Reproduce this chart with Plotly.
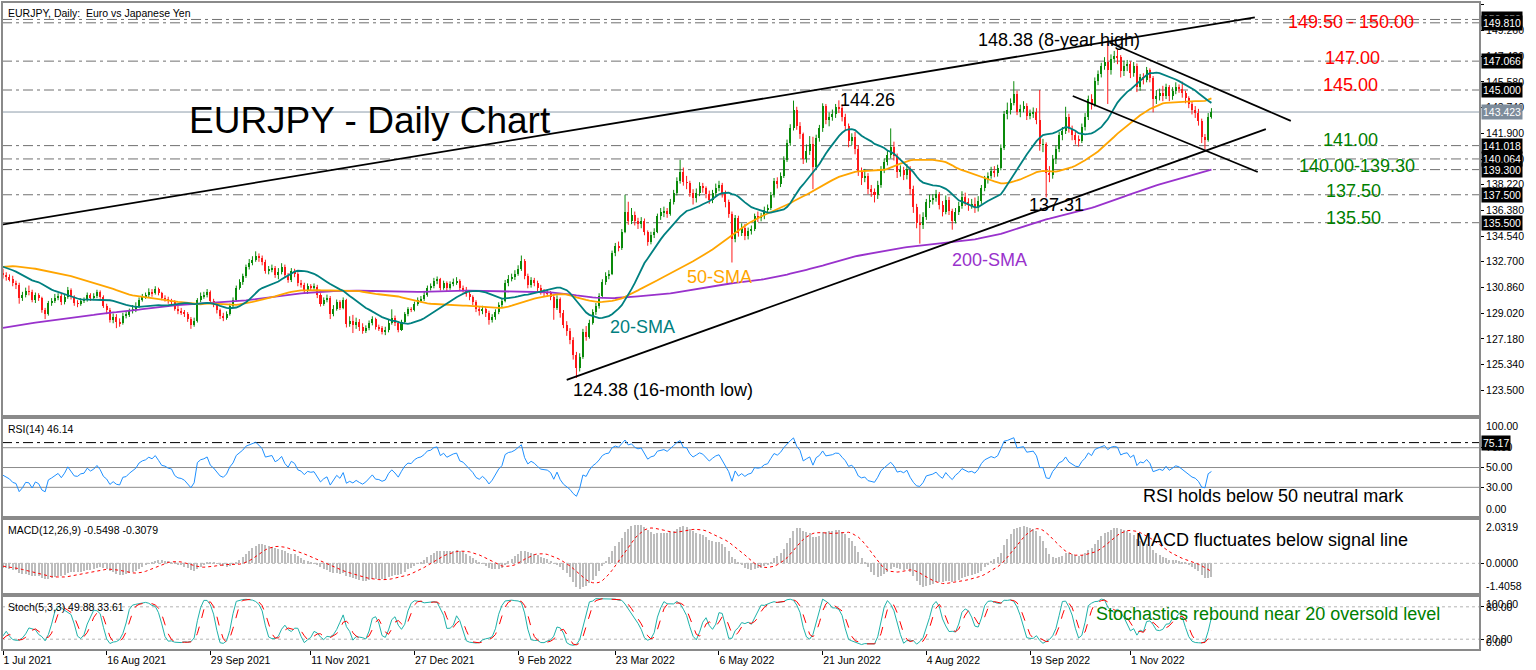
import numpy as np
import pandas as pd
import plotly.graph_objects as go

# ---------------- data ----------------
first_date = "2021-07-01"

# daily closes before the visible window (only used to warm up the moving averages / oscillators)
history_close = [
    123.2, 123.0, 122.9, 122.6, 122.8, 123.3, 123.1, 123.6, 123.9, 123.5,
    123.6, 124.2, 124.0, 124.5, 124.8, 124.6, 124.0, 123.7, 123.5, 123.2,
    123.4, 124.2, 124.6, 124.3, 123.9, 123.6, 123.2, 122.4, 122.1, 122.3,
    122.6, 123.0, 123.5, 122.9, 124.3, 124.8, 124.6, 124.2, 124.0, 124.3,
    124.1, 123.8, 123.6, 123.4, 123.9, 124.0, 124.3, 124.4, 124.2, 124.4,
    124.6, 125.8, 126.1, 126.2, 126.4, 126.0, 126.3, 126.1, 126.4, 126.7,
    126.5, 126.8, 126.6, 127.1, 126.8, 126.3, 126.4, 126.7, 126.5, 126.8,
    126.4, 126.2, 126.1, 126.2, 126.6, 126.9, 126.7, 126.5, 126.3, 126.2,
    126.5, 126.2, 126.1, 126.3, 126.4, 126.2, 126.0, 125.8, 126.1, 126.0,
    125.9, 127.0, 126.3, 126.2, 126.4, 126.5, 126.7, 126.9, 127.2, 127.3,
    127.4, 127.2, 127.3, 127.6, 127.7, 128.0, 127.9, 128.1, 128.6, 128.3,
    128.9, 129.1, 128.8, 128.6, 128.9, 128.6, 128.7, 129.2, 129.0, 129.6,
    129.8, 130.1, 130.0, 129.8, 129.9, 130.3, 129.9, 129.4, 129.2, 129.1,
    128.5, 128.9, 129.5, 129.9, 129.8, 129.9, 129.9, 130.0, 130.2, 130.3,
    130.3, 130.2, 130.0, 130.0, 130.2, 130.5, 130.7, 130.6, 130.1, 130.6,
    130.8, 130.1, 130.4, 131.3, 131.4, 132.0, 131.8, 131.5, 131.7, 131.6,
    131.8, 132.3, 132.2, 132.0, 132.0, 131.8, 131.8, 132.3, 132.8, 132.9,
    132.8, 132.9, 132.9, 133.2, 133.2, 133.2, 133.4, 133.9, 133.6, 133.7,
    133.2, 133.0, 133.0, 133.2, 133.0, 132.8, 132.9, 132.7, 132.9, 132.7,
    131.8, 131.4, 131.8, 132.0, 132.2, 132.3, 132.1, 131.9, 131.6, 131.9,
]

close = [
    131.75, 131.58,
    131.45, 131.15, 131.05, 130.10, 130.30,
    130.60, 130.55, 129.95, 130.30, 130.10,
    129.25, 128.95, 129.75, 129.90, 130.10,
    130.25, 129.80, 130.15, 130.70, 130.20,
    129.75, 129.70, 129.90, 129.95, 130.35,
    130.10, 130.25, 130.55, 130.20, 129.55,
    129.25, 128.55, 128.75, 128.40, 128.30,
    128.85, 128.90, 129.15, 129.35, 129.55,
    130.00, 130.20, 130.30, 130.55, 130.45,
    130.75, 130.45, 130.10, 130.05, 129.90,
    129.85, 129.35, 129.15, 129.10, 128.95,
    128.60, 128.20, 128.45, 129.95, 130.25,
    130.35, 130.55, 129.90, 129.65, 129.25,
    128.85, 128.70, 128.95, 129.55, 129.95,
    130.85, 131.25, 131.65, 132.35, 132.65,
    132.85, 133.15, 132.95, 132.70, 132.05,
    132.15, 132.25, 131.75, 131.95, 132.35,
    131.75, 131.40, 132.05, 131.85, 131.20,
    131.05, 130.65, 130.95, 130.85, 130.90,
    130.30, 129.70, 129.95, 130.10, 128.95,
    129.35, 129.80, 129.40, 129.95, 128.25,
    128.45, 128.15, 128.40, 128.05, 127.75,
    127.95, 128.30, 128.60, 128.00, 127.95,
    127.70, 127.80, 128.35, 128.70, 128.35,
    127.85, 128.40, 128.95, 129.30, 129.25,
    129.70, 129.95, 130.05, 130.35, 130.85,
    130.95, 131.35, 131.45, 130.85, 131.15,
    130.85, 131.10, 131.25, 131.35, 130.80,
    130.70, 130.40, 130.15, 129.85, 129.35,
    129.15, 129.35, 129.05, 128.50, 128.75,
    129.10, 129.60, 129.90, 131.20, 131.50,
    131.60, 131.85, 132.20, 132.75, 131.70,
    131.05, 131.40, 131.20, 130.85, 130.55,
    130.50, 130.45, 130.20, 129.40, 130.05,
    129.00, 128.20, 127.75, 127.10, 126.00,
    125.10, 125.90, 127.65, 127.35, 128.35,
    129.10, 129.55, 130.25, 131.25, 131.70,
    131.85, 133.30, 133.85, 133.70, 134.85,
    136.30, 135.65, 136.05, 135.60, 135.40,
    135.65, 134.85, 134.15, 134.65, 134.85,
    135.95, 136.25, 136.35, 136.15, 136.95,
    137.60, 138.50, 139.15, 138.40, 138.35,
    137.65, 137.25, 137.65, 138.10, 137.95,
    137.55, 137.15, 137.60, 138.00, 138.20,
    137.60, 136.95, 136.10, 134.30, 135.85,
    134.75, 135.15, 134.55, 134.90, 135.05,
    135.95, 135.85, 135.95, 136.40, 136.55,
    137.45, 138.45, 138.25, 138.85, 140.00,
    141.20, 142.30, 143.55, 142.45, 141.85,
    140.05, 140.60, 141.10, 139.50, 141.55,
    142.25, 143.85, 142.85, 143.05, 143.25,
    143.75, 143.70, 143.05, 142.45, 141.35,
    141.60, 140.80, 139.20, 138.70, 138.85,
    137.90, 137.70, 137.45, 138.20, 139.30,
    139.85, 140.35, 140.95, 140.30, 139.10,
    139.25, 138.95, 139.35, 137.90, 136.60,
    135.50, 135.35, 135.90, 136.95, 137.10,
    137.25, 137.55, 136.80, 136.30, 137.15,
    136.35, 135.65, 136.30, 136.70, 137.35,
    137.00, 136.75, 136.85, 136.55, 137.05,
    137.95, 138.60, 138.85, 139.20, 139.05,
    139.40, 140.85, 143.25, 143.55, 144.10,
    144.70, 143.45, 143.65, 143.85, 143.15,
    143.35, 143.40, 142.85, 141.10, 141.10,
    139.05, 138.90, 140.05, 140.75, 141.75,
    142.05, 143.05, 142.20, 141.75, 141.45,
    141.35, 142.35, 143.05, 144.35, 143.95,
    145.65, 146.15, 146.70, 147.00, 146.45,
    147.20, 147.45, 147.35, 146.35, 146.70,
    146.85, 146.25, 146.75, 145.20, 145.90,
    145.75, 146.40, 145.85, 144.35, 144.60,
    144.75, 144.55, 145.20, 144.55, 144.95,
    145.25, 145.10, 144.75, 144.40, 144.00,
    143.55, 143.35, 142.80, 141.60, 141.45,
    143.10, 143.42,
]

high = [
    132.20, 131.95,
    131.80, 131.70, 131.35, 131.20, 130.55,
    130.85, 131.00, 130.70, 130.50, 130.45,
    130.20, 129.40, 129.90, 130.10, 130.40,
    130.45, 130.40, 130.35, 130.90, 130.80,
    130.30, 129.95, 130.10, 130.15, 130.50,
    130.45, 130.45, 130.70, 130.65, 130.30,
    129.70, 129.40, 129.00, 128.95, 128.65,
    129.05, 129.15, 129.35, 129.60, 129.80,
    130.15, 130.40, 130.50, 130.80, 130.75,
    130.95, 130.85, 130.55, 130.30, 130.20,
    130.05, 129.95, 129.55, 129.40, 129.25,
    129.10, 128.75, 128.70, 130.10, 130.50,
    130.55, 130.75, 130.65, 130.05, 129.75,
    129.35, 129.05, 129.15, 129.70, 130.15,
    131.00, 131.45, 131.85, 132.50, 132.90,
    133.10, 133.45, 133.30, 133.15, 132.85,
    132.40, 132.50, 132.40, 132.25, 132.60,
    132.50, 131.90, 132.25, 132.20, 131.95,
    131.40, 131.20, 131.15, 131.10, 131.15,
    131.05, 130.45, 130.15, 130.35, 130.25,
    129.60, 130.00, 129.95, 130.15, 130.05,
    128.80, 128.90, 128.70, 128.60, 128.30,
    128.15, 128.50, 128.80, 128.70, 128.20,
    128.10, 128.05, 128.55, 129.30, 128.85,
    128.45, 128.55, 129.10, 129.45, 129.45,
    129.85, 130.15, 130.25, 130.55, 131.00,
    131.15, 131.55, 131.65, 131.55, 131.35,
    131.30, 131.30, 131.50, 131.60, 131.45,
    131.00, 130.90, 130.55, 130.30, 129.95,
    129.50, 129.55, 129.50, 129.20, 128.95,
    129.30, 129.80, 130.10, 131.40, 131.75,
    131.85, 132.10, 132.45, 133.15, 132.90,
    131.85, 131.60, 131.55, 131.35, 131.05,
    130.75, 130.70, 130.60, 130.35, 130.30,
    130.15, 129.25, 128.45, 127.95, 127.30,
    126.25, 126.15, 127.90, 128.10, 128.55,
    129.30, 129.75, 130.45, 131.45, 131.95,
    132.10, 133.50, 134.05, 134.15, 135.05,
    137.50, 137.00, 136.55, 136.30, 135.85,
    135.90, 135.80, 134.95, 134.85, 135.10,
    136.15, 136.55, 136.65, 136.55, 137.20,
    137.85, 138.75, 140.00, 139.45, 138.85,
    138.50, 137.90, 137.95, 138.40, 138.35,
    138.10, 137.80, 137.85, 138.30, 138.50,
    138.35, 137.80, 137.15, 136.30, 136.05,
    136.00, 135.45, 135.40, 135.15, 135.30,
    136.15, 136.30, 136.20, 136.65, 136.80,
    137.70, 138.70, 138.75, 139.10, 140.25,
    141.45, 142.55, 144.24, 143.80, 142.70,
    141.95, 141.10, 141.70, 141.65, 141.80,
    142.50, 144.05, 144.00, 143.40, 143.60,
    144.00, 144.26, 143.95, 143.30, 142.60,
    141.90, 142.00, 141.05, 139.45, 139.35,
    139.05, 138.20, 137.95, 138.50, 139.55,
    140.10, 140.65, 142.25, 141.30, 140.45,
    139.60, 139.50, 139.70, 139.55, 138.15,
    136.85, 136.10, 136.25, 137.20, 137.50,
    137.55, 137.85, 137.70, 137.05, 137.45,
    137.35, 136.50, 136.55, 137.00, 137.75,
    137.65, 137.25, 137.20, 137.30, 137.40,
    138.20, 138.85, 139.10, 139.50, 139.55,
    139.65, 141.10, 143.50, 144.10, 144.40,
    145.63, 144.95, 143.95, 144.20, 144.05,
    143.60, 143.75, 143.70, 145.00, 141.50,
    141.25, 139.55, 140.35, 141.05, 142.00,
    142.35, 143.80, 143.30, 142.45, 142.05,
    141.75, 142.60, 143.35, 144.60, 144.70,
    145.90, 146.40, 146.95, 147.35, 148.38,
    147.55, 147.80, 147.90, 147.50, 147.10,
    147.15, 147.05, 147.00, 146.90, 146.15,
    146.20, 146.65, 146.55, 146.00, 145.00,
    145.10, 145.30, 145.45, 145.35, 145.20,
    145.55, 145.40, 145.60, 144.95, 144.55,
    144.20, 143.85, 143.65, 142.95, 141.85,
    143.35, 143.70,
]

low = [
    131.50, 131.35,
    131.30, 130.95, 130.75, 129.70, 129.90,
    130.15, 130.30, 129.80, 129.75, 129.90,
    129.05, 128.60, 128.85, 129.55, 129.75,
    129.95, 129.60, 129.65, 130.05, 130.00,
    129.55, 129.45, 129.55, 129.75, 129.85,
    129.90, 129.95, 130.10, 130.05, 129.40,
    128.95, 128.35, 128.30, 127.95, 128.05,
    128.20, 128.65, 128.75, 129.00, 129.10,
    129.40, 129.85, 130.05, 130.15, 130.20,
    130.35, 130.30, 129.95, 129.85, 129.70,
    129.65, 129.20, 128.95, 128.90, 128.75,
    128.40, 127.90, 128.05, 128.35, 129.80,
    130.05, 130.15, 129.75, 129.45, 129.00,
    128.60, 128.45, 128.55, 128.85, 129.40,
    129.85, 130.70, 131.05, 131.55, 132.15,
    132.45, 132.70, 132.70, 132.45, 131.85,
    131.80, 131.95, 131.55, 131.45, 131.80,
    131.55, 131.20, 131.25, 131.60, 130.95,
    130.85, 130.45, 130.40, 130.65, 130.70,
    130.10, 129.50, 129.55, 129.80, 128.60,
    128.80, 129.20, 129.25, 129.30, 128.00,
    128.05, 127.60, 127.90, 127.75, 127.55,
    127.60, 127.80, 128.15, 127.85, 127.75,
    127.50, 127.45, 127.65, 128.20, 128.10,
    127.65, 127.75, 128.30, 128.80, 129.10,
    129.15, 129.55, 129.80, 129.90, 130.20,
    130.65, 130.80, 131.10, 130.65, 130.70,
    130.60, 130.70, 130.95, 131.05, 130.60,
    130.50, 130.20, 129.95, 129.60, 129.10,
    128.85, 128.95, 128.75, 128.20, 128.35,
    128.55, 128.95, 129.45, 129.80, 130.95,
    131.30, 131.40, 131.70, 132.05, 131.45,
    130.80, 130.85, 130.95, 130.60, 130.35,
    130.25, 130.20, 129.95, 128.55, 129.25,
    128.70, 127.95, 127.40, 126.80, 125.70,
    124.38, 124.85, 125.75, 127.05, 127.20,
    128.20, 128.90, 129.35, 130.10, 131.05,
    131.45, 131.75, 133.10, 133.45, 133.55,
    134.75, 135.35, 135.40, 135.30, 135.05,
    135.10, 134.60, 133.85, 133.95, 134.40,
    134.75, 135.70, 135.90, 135.85, 136.00,
    136.80, 137.45, 138.30, 138.15, 137.90,
    137.35, 136.80, 136.95, 137.40, 137.65,
    137.25, 136.85, 136.90, 137.35, 137.75,
    137.30, 136.60, 135.85, 132.65, 134.10,
    134.50, 134.55, 134.25, 134.30, 134.65,
    134.90, 135.55, 135.60, 135.75, 136.20,
    136.40, 137.30, 137.95, 138.05, 138.70,
    139.85, 141.00, 142.10, 142.15, 141.50,
    139.70, 139.80, 140.35, 137.90, 139.30,
    141.30, 142.00, 142.55, 142.40, 142.80,
    143.00, 143.35, 142.75, 142.10, 140.90,
    141.05, 140.40, 138.85, 138.20, 138.40,
    137.55, 137.35, 136.95, 137.20, 138.00,
    139.05, 139.60, 140.10, 139.95, 138.70,
    138.80, 138.55, 138.60, 137.50, 136.20,
    135.10, 134.00, 135.05, 135.70, 136.55,
    136.80, 137.00, 136.45, 135.95, 136.10,
    136.05, 135.00, 135.45, 136.05, 136.50,
    136.70, 136.35, 136.50, 136.20, 136.30,
    136.85, 137.75, 138.30, 138.65, 138.75,
    138.80, 139.25, 140.70, 142.90, 143.25,
    143.90, 143.20, 143.05, 143.40, 142.85,
    142.90, 143.00, 142.55, 140.65, 140.55,
    137.31, 138.40, 138.65, 139.70, 140.55,
    141.40, 141.85, 141.95, 141.40, 141.10,
    140.95, 141.20, 142.10, 142.85, 143.60,
    143.80, 145.35, 145.90, 146.45, 144.00,
    146.10, 146.95, 146.85, 145.90, 146.00,
    146.35, 145.85, 145.95, 144.85, 144.95,
    145.40, 145.55, 145.55, 143.40, 144.00,
    144.25, 144.20, 144.35, 144.20, 144.30,
    144.70, 144.80, 144.45, 144.05, 143.70,
    143.25, 143.00, 142.45, 141.20, 140.75,
    141.30, 142.95,
]

label_dates = ["2021-07-01", "2021-08-16", "2021-09-29", "2021-11-11", "2021-12-27",
               "2022-02-09", "2022-03-23", "2022-05-06", "2022-06-21", "2022-08-04",
               "2022-09-19", "2022-11-01"]
price_ticks = [151.10, 149.26, 147.42, 145.58, 143.74, 141.90, 140.06, 138.22,
               136.38, 134.54, 132.70, 130.86, 129.02, 127.18, 125.34, 123.50]
sr_levels = [150.05, 149.81, 147.066, 145.0, 141.018, 140.064, 139.30, 137.50, 135.50]
last_price = 143.423
rsi_mark = 75.17
rsi_levels = [30, 50, 70]
stoch_levels = [20, 80]
# trend lines: [bar index start, price start, bar index end, price end]
trend_lines = [
    [-1.0, 135.34, 386.4, 150.20],
    [174.0, 124.24, 389.8, 142.20],
    [341.5, 148.40, 397.5, 142.79],
    [330.2, 144.57, 387.3, 139.13],
]

assert len(history_close) == 200
assert len(close) == len(high) == len(low) == 374

# ---------------- indicators ----------------
n = len(close)
idx = np.arange(n)
dates = pd.bdate_range(first_date, periods=n)
H = len(history_close)
c_all = pd.Series(history_close + close, dtype=float)
h_all = pd.Series(history_close + high, dtype=float)
l_all = pd.Series(history_close + low, dtype=float)

sma20 = c_all.rolling(20).mean().iloc[H:].values
sma50 = c_all.rolling(50).mean().iloc[H:].values
sma200 = c_all.rolling(200).mean().iloc[H:].values

dlt = c_all.diff()
ag = dlt.clip(lower=0).ewm(alpha=1 / 14, adjust=False).mean()
al = (-dlt).clip(lower=0).ewm(alpha=1 / 14, adjust=False).mean()
rsi = (100 - 100 / (1 + ag / al)).iloc[H:].values

macd_s = c_all.ewm(span=12, adjust=False).mean() - c_all.ewm(span=26, adjust=False).mean()
sig_s = macd_s.rolling(9).mean()
macd = macd_s.iloc[H:].values
sig = sig_s.iloc[H:].values

hh = h_all.rolling(5).max()
ll = l_all.rolling(5).min()
k_s = (c_all - ll).rolling(3).sum() / (hh - ll).rolling(3).sum() * 100
d_s = k_s.rolling(3).mean()
stk = k_s.iloc[H:].values
std = d_s.iloc[H:].values

o = np.array([history_close[-1]] + close[:-1])
c = np.array(close)
hi = np.maximum(np.array(high), np.maximum(o, c))
lo = np.minimum(np.array(low), np.minimum(o, c))
up = c >= o

GREEN = "#0B8A0B"
RED = "#FF1A1A"
FONT = "Liberation Sans, Arial, sans-serif"

fig = go.Figure()

# wicks
for mask, col in ((up, GREEN), (~up, RED)):
    xs, ys = [], []
    for i in idx[mask]:
        xs += [i, i, None]
        ys += [lo[i], hi[i], None]
    fig.add_trace(go.Scatter(x=xs, y=ys, mode="lines", line=dict(color=col, width=1),
                             hoverinfo="skip", xaxis="x", yaxis="y"))
# bodies
fig.add_trace(go.Bar(x=idx, y=np.maximum(np.abs(c - o), 0.03), base=np.minimum(o, c),
                     width=0.62, marker=dict(color=np.where(up, GREEN, RED), line=dict(width=0)),
                     xaxis="x", yaxis="y"))
# moving averages
for vals, col in ((sma200, "#9932CC"), (sma50, "#FFA500"), (sma20, "#008080")):
    fig.add_trace(go.Scatter(x=idx, y=vals, mode="lines", line=dict(color=col, width=1.8),
                             xaxis="x", yaxis="y"))

# RSI
fig.add_trace(go.Scatter(x=idx, y=rsi, mode="lines", line=dict(color="#1E90FF", width=1),
                         xaxis="x", yaxis="y2"))
# MACD
fig.add_trace(go.Bar(x=idx, y=macd, width=0.32, marker=dict(color="#BDBDBD", line=dict(width=0)),
                     xaxis="x", yaxis="y3"))
fig.add_trace(go.Scatter(x=idx, y=sig, mode="lines", line=dict(color="#FF0000", width=1, dash="dot"),
                         xaxis="x", yaxis="y3"))
# Stochastic
fig.add_trace(go.Scatter(x=idx, y=stk, mode="lines", line=dict(color="#20B2AA", width=1),
                         xaxis="x", yaxis="y4"))
fig.add_trace(go.Scatter(x=idx, y=std, mode="lines", line=dict(color="#FF0000", width=1, dash="dash"),
                         xaxis="x", yaxis="y4"))

main_dom = [0.3611, 1.0]
rsi_dom = [0.2052, 0.3580]
macd_dom = [0.0864, 0.2022]
stoch_dom = [0.0, 0.0833]

shapes = []
DASHDOT = "10px,4px,3px,4px"
for lv in sr_levels:
    shapes.append(dict(type="line", xref="paper", x0=0, x1=1, yref="y", y0=lv, y1=lv,
                       line=dict(color="#707070", width=1, dash=DASHDOT), layer="below"))
shapes.append(dict(type="line", xref="paper", x0=0, x1=1, yref="y", y0=last_price, y1=last_price,
                   line=dict(color="#8E9CAA", width=1), layer="below"))
for x0, y0, x1, y1 in trend_lines:
    shapes.append(dict(type="line", xref="x", yref="y", x0=x0, y0=y0, x1=x1, y1=y1,
                       line=dict(color="black", width=1.8)))
for lv in rsi_levels:
    shapes.append(dict(type="line", xref="paper", x0=0, x1=1, yref="y2", y0=lv, y1=lv,
                       line=dict(color="#8C8C8C", width=1), layer="below"))
shapes.append(dict(type="line", xref="paper", x0=0, x1=1, yref="y2", y0=rsi_mark, y1=rsi_mark,
                   line=dict(color="black", width=1, dash=DASHDOT), layer="below"))
shapes.append(dict(type="line", xref="paper", x0=0, x1=1, yref="y3", y0=0, y1=0,
                   line=dict(color="#B4B4B4", width=1, dash="dot"), layer="below"))
for lv in stoch_levels:
    shapes.append(dict(type="line", xref="paper", x0=0, x1=1, yref="y4", y0=lv, y1=lv,
                       line=dict(color="#B4B4B4", width=1, dash="dot"), layer="below"))
for dom in (main_dom, rsi_dom, macd_dom, stoch_dom):
    shapes.append(dict(type="rect", xref="paper", yref="paper", x0=0, x1=1, y0=dom[0], y1=dom[1],
                       line=dict(color="#8A8A8A", width=2), fillcolor="rgba(0,0,0,0)"))

ann = []


def txt(x, y, text, size=18, color="black", yref="y", xref="x", xanchor="center",
        yanchor="middle", **kw):
    ann.append(dict(x=x, y=y, xref=xref, yref=yref, text=text, showarrow=False,
                    xanchor=xanchor, yanchor=yanchor,
                    font=dict(family=FONT, size=size, color=color), **kw))


# panel captions
txt(0, main_dom[1], "EURJPY, Daily:\u00a0 Euro vs Japanese Yen", size=10.5, xref="paper",
    yref="paper", xanchor="left", yanchor="top", xshift=4, yshift=-3)
txt(0, rsi_dom[1], "RSI(14) 46.14", size=10.5, xref="paper", yref="paper",
    xanchor="left", yanchor="top", xshift=4, yshift=-3)
txt(0, macd_dom[1], "MACD(12,26,9) -0.5498 -0.3079", size=10.5, xref="paper", yref="paper",
    xanchor="left", yanchor="top", xshift=4, yshift=-3)
txt(0, stoch_dom[1], "Stoch(5,3,3) 49.88 33.61", size=10.5, xref="paper", yref="paper",
    xanchor="left", yanchor="top", xshift=4, yshift=-3)

# chart texts
txt(113.3, 142.85, "EURJPY - Daily Chart", size=37)
txt(266.7, 144.28, "144.26")
txt(325.9, 148.58, "148.38 (8-year high)")
txt(325.3, 136.77, "137.31")
txt(203.7, 123.53, "124.38 (16-month low)")
txt(304.6, 132.83, "200-SMA", color="#9932CC")
txt(221.3, 131.61, "50-SMA", color="#FFA500")
txt(197.5, 128.04, "20-SMA", color="#008080")
txt(416.0, 149.87, "149.50 - 150.00", color="#FF0000")
txt(416.4, 147.29, "147.00", color="#FF0000")
txt(416.0, 145.36, "145.00", color="#FF0000")
txt(416.0, 141.42, "141.00", color="#008000")
txt(417.9, 139.56, "140.00-139.30", color="#008000")
txt(417.0, 137.77, "137.50", color="#008000")
txt(417.0, 135.84, "135.50", color="#008000")
txt(392.1, 21.0, "RSI holds below 50 neutral mark", yref="y2")
txt(391.7, 1.07, "MACD fluctuates below signal line", yref="y3")
txt(390.4, 66.7, "Stochastics rebound near 20 oversold level", yref="y4", color="#008000")

# value boxes on the price scale
for lv in sr_levels:
    txt(1, lv, f"{lv:.3f}", size=10.5, color="white", xref="paper", yref="y", xanchor="left",
        xshift=1, bgcolor="black", borderpad=1)
txt(1, last_price, f"{last_price:.3f}", size=10.5, color="white", xref="paper", yref="y",
    xanchor="left", xshift=1, bgcolor="#7D8C9B", borderpad=1)
txt(1, rsi_mark, f"{rsi_mark:.2f}", size=10.5, color="white", xref="paper", yref="y2",
    xanchor="left", xshift=1, bgcolor="black", borderpad=1)
# scale end labels
for ref, val, lab, anc in (("y2", 100, "100.00", "top"), ("y2", 0, "0.00", "bottom"),
                           ("y3", 2.0319, "2.0319", "top"), ("y3", -1.4058, "-1.4058", "bottom"),
                           ("y4", 100, "100.00", "top"), ("y4", 0, "0.00", "bottom")):
    txt(1, val, lab, size=10.5, xref="paper", yref=ref, xanchor="left", yanchor=anc, xshift=4)

tick_idx = [int(dates.get_loc(pd.Timestamp(d))) for d in label_dates]
tick_text = [f"{pd.Timestamp(d).day} {pd.Timestamp(d):%b %Y}" for d in label_dates]

yax_common = dict(side="right", anchor="x", showgrid=False, zeroline=False, ticks="outside",
                  ticklen=3, tickcolor="black", showline=False,
                  tickfont=dict(family=FONT, size=10.5, color="black"))

fig.update_layout(
    width=1536, height=670,
    margin=dict(l=2, r=56, t=2, b=20),
    paper_bgcolor="white", plot_bgcolor="white",
    showlegend=False, barmode="overlay", bargap=0,
    font=dict(family=FONT, size=10.5, color="black"),
    xaxis=dict(domain=[0, 1], range=[-0.31, 455.9], anchor="y4", tickvals=tick_idx,
               ticktext=tick_text, ticklabelposition="outside right", ticks="outside",
               ticklen=4, tickcolor="black", showgrid=False, zeroline=False, showline=False,
               tickfont=dict(family=FONT, size=10.5, color="black")),
    yaxis=dict(domain=main_dom, range=[121.66, 151.30], tickvals=price_ticks,
               ticktext=[f"{v:.3f}" for v in price_ticks], **yax_common),
    yaxis2=dict(domain=rsi_dom, range=[0, 100], tickvals=rsi_levels,
                ticktext=[f"{v:.2f}" for v in rsi_levels], **yax_common),
    yaxis3=dict(domain=macd_dom, range=[-1.4058, 2.0319], tickvals=[0], ticktext=["0.0000"],
                **yax_common),
    yaxis4=dict(domain=stoch_dom, range=[0, 100], tickvals=stoch_levels,
                ticktext=[f"{v:.2f}" for v in stoch_levels], **yax_common),
    shapes=shapes,
    annotations=ann,
)

fig.write_html("out.html", config={"displayModeBar": False})

# remove the browser's default page margin so the 1536x670 figure fills the window exactly
with open("out.html", "r", encoding="utf-8") as fh:
    page = fh.read()
page = page.replace("<head>", "<head><style>html,body{margin:0;padding:0;overflow:hidden;}</style>", 1)
with open("out.html", "w", encoding="utf-8") as fh:
    fh.write(page)
